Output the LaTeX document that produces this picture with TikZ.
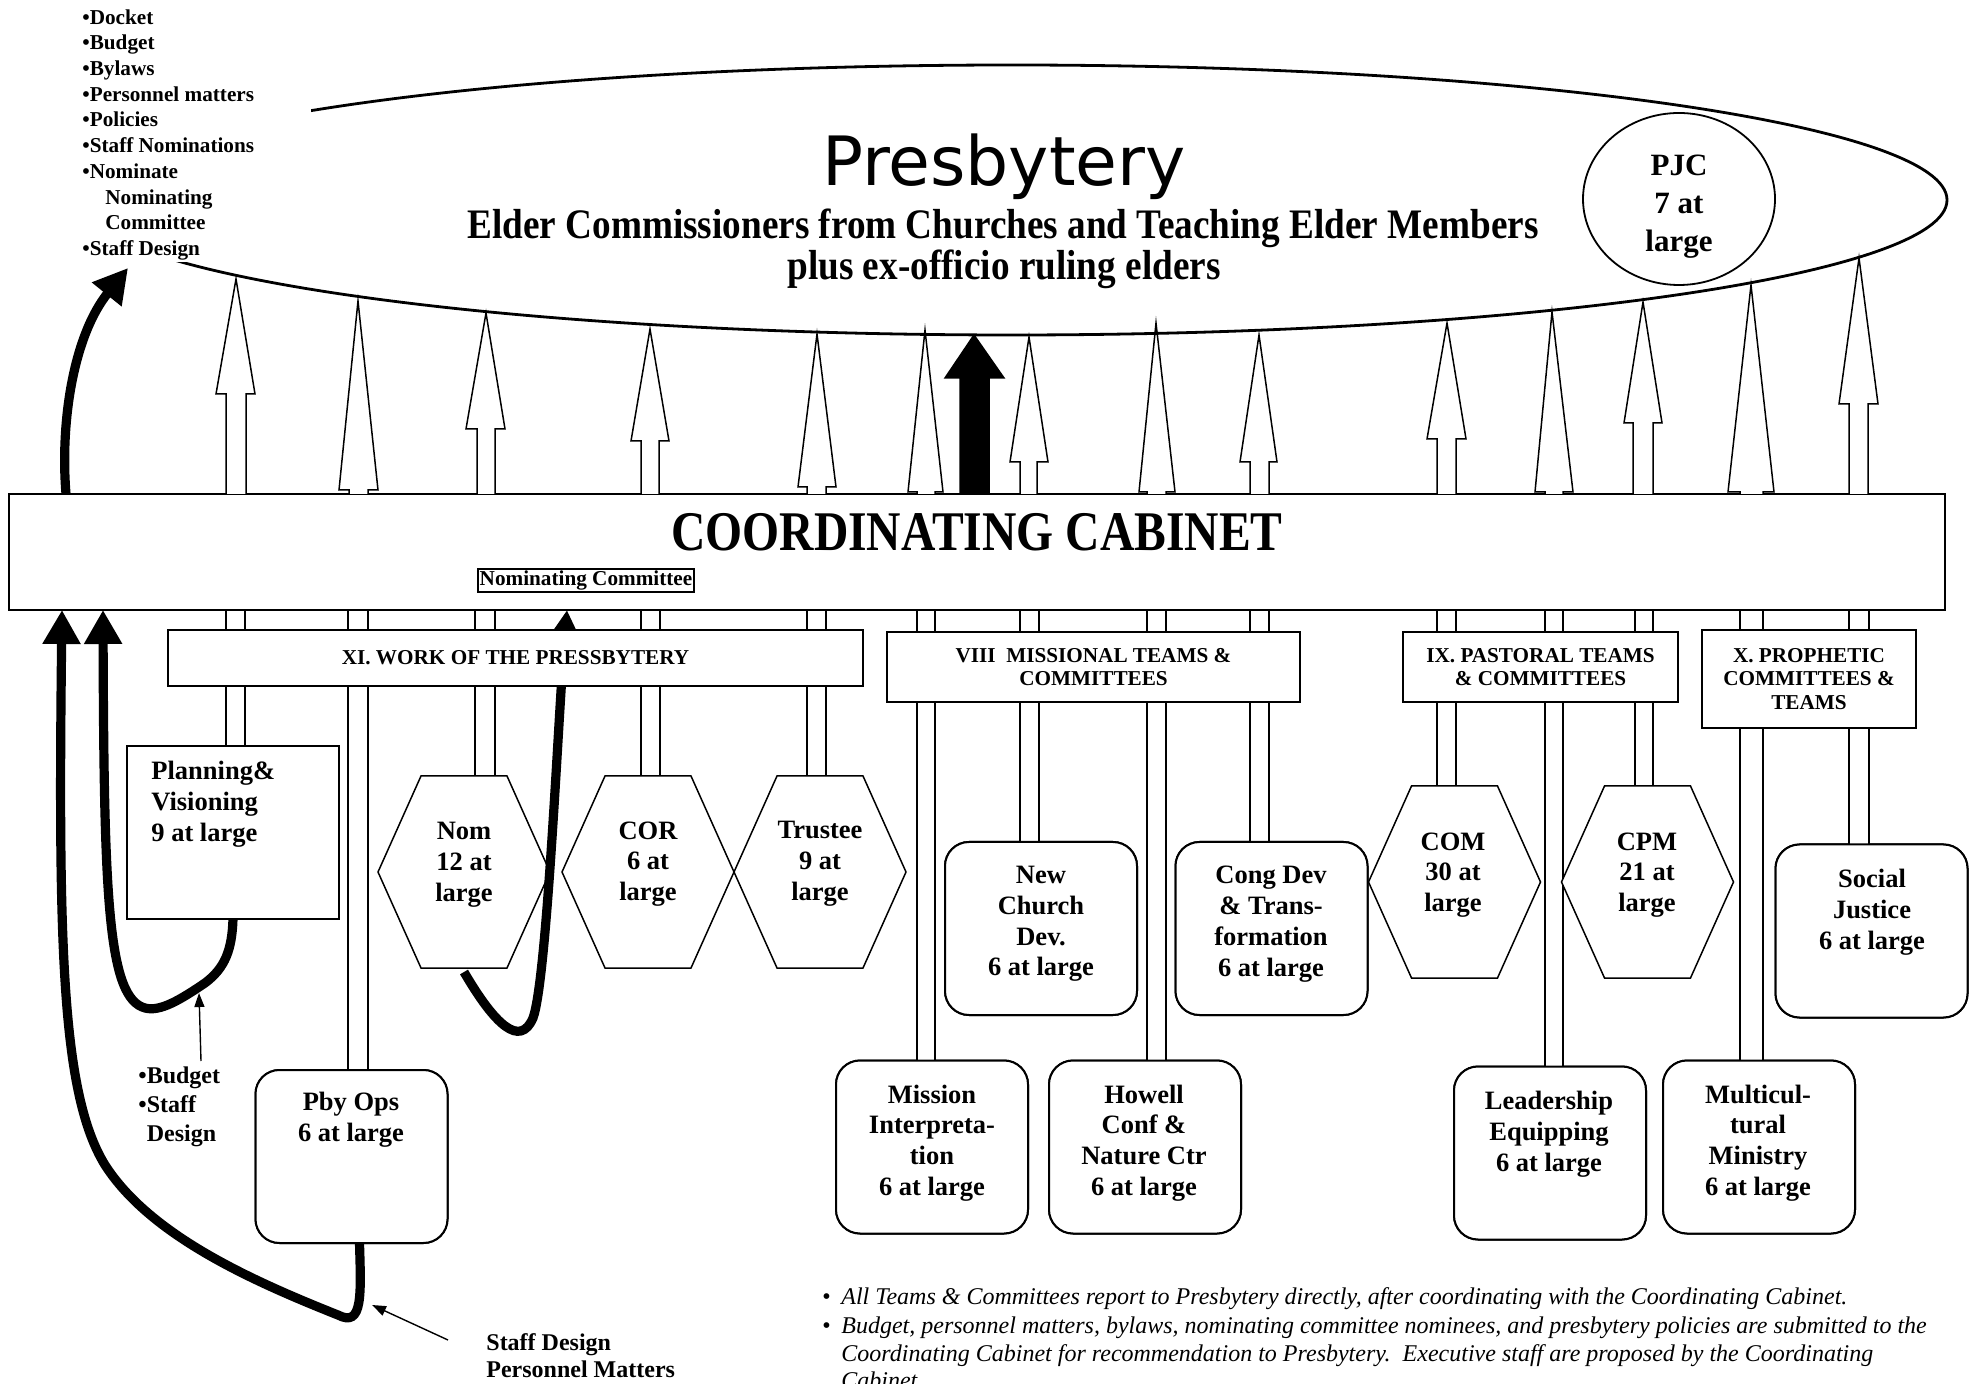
\documentclass[tikz,border=0pt]{standalone}
\usepackage{fontspec}
\setmainfont{Liberation Serif}
\newfontfamily\presfont{DejaVu Sans}
\usetikzlibrary{arrows.meta,shapes.geometric,calc}

\tikzset{
  boxline/.style={draw=black,line width=1pt,fill=white,inner sep=0pt,outer sep=0pt},
  teambox/.style={boxline,rounded corners=12pt,minimum width=96pt,minimum height=86.5pt},
  hexbox/.style={inner sep=0pt,outer sep=0pt,minimum width=86pt,minimum height=96pt},
  grouphead/.style={boxline,align=center,font=\bfseries\fontsize{10.6}{11.8}\selectfont},
  teamtext/.style={align=center,inner sep=0pt,font=\bfseries\fontsize{13.25}{15.4}\selectfont},
  notetext/.style={anchor=north west,align=left,inner sep=0pt},
  pipe/.style={draw=black,line width=0.75pt,fill=white},
  blockup/.style={draw=black,line width=0.75pt,fill=white,line join=miter},
  bigcurve/.style={line width=4.6pt,-{Triangle[length=17pt,width=18pt]}},
  pointer/.style={line width=0.7pt,-{Triangle[length=7pt,width=5pt]}}
}
\newcommand{\hexline}[1]{%
  \path[draw=black,line width=0.75pt,fill=white]
    ($(#1.north west)!0.25!(#1.north east)$) -- ($(#1.north west)!0.75!(#1.north east)$) --
    (#1.east) --
    ($(#1.south west)!0.75!(#1.south east)$) -- ($(#1.south west)!0.25!(#1.south east)$) --
    (#1.west) -- cycle;}

\begin{document}
\begin{tikzpicture}[x=0.5pt,y=-0.5pt]
\path[use as bounding box,fill=white] (0,0) rectangle (1976,1384);

\node[boxline,minimum width=968pt,minimum height=58pt] (cab) at (977,552) {};

\path[blockup] (226,0 |- cab.north) -- (226,394) -- (216,394) -- (236,279) -- (255,394) -- (246,394) -- (246,0 |- cab.north);
\path[blockup] (349,0 |- cab.north) -- (349,490) -- (339,490) -- (358,301) -- (378,490) -- (368,490) -- (368,0 |- cab.north);
\path[blockup] (477,0 |- cab.north) -- (477,429) -- (466,429) -- (486,313) -- (505,429) -- (495,429) -- (495,0 |- cab.north);
\path[blockup] (641,0 |- cab.north) -- (641,441) -- (631,441) -- (650,329) -- (669,441) -- (659,441) -- (659,0 |- cab.north);
\path[blockup] (807,0 |- cab.north) -- (807,487) -- (798,487) -- (817,334) -- (836,487) -- (826,487) -- (826,0 |- cab.north);
\path[blockup] (917,0 |- cab.north) -- (917,492) -- (908,492) -- (925,330) -- (943,492) -- (935,492) -- (935,0 |- cab.north);
\path[blockup,fill=black] (960,0 |- cab.north) -- (960,378) -- (945,378) -- (974,335) -- (1004,378) -- (989,378) -- (989,0 |- cab.north);
\path[blockup] (1020,0 |- cab.north) -- (1020,462) -- (1010,462) -- (1029,337) -- (1048,462) -- (1037,462) -- (1037,0 |- cab.north);
\path[blockup] (1147,0 |- cab.north) -- (1147,492) -- (1139,492) -- (1156,323) -- (1175,492) -- (1166,492) -- (1166,0 |- cab.north);
\path[blockup] (1250,0 |- cab.north) -- (1250,462) -- (1240,462) -- (1259,335) -- (1277,462) -- (1269,462) -- (1269,0 |- cab.north);
\path[blockup] (1437,0 |- cab.north) -- (1437,439) -- (1427,439) -- (1447,323) -- (1466,439) -- (1456,439) -- (1456,0 |- cab.north);
\path[blockup] (1545,0 |- cab.north) -- (1545,492) -- (1535,492) -- (1552,312) -- (1573,492) -- (1563,492) -- (1563,0 |- cab.north);
\path[blockup] (1633,0 |- cab.north) -- (1633,423) -- (1624,423) -- (1643,302) -- (1662,423) -- (1653,423) -- (1653,0 |- cab.north);
\path[blockup] (1740,0 |- cab.north) -- (1740,492) -- (1728,492) -- (1751,285) -- (1774,492) -- (1763,492) -- (1763,0 |- cab.north);
\path[blockup] (1849,0 |- cab.north) -- (1849,404) -- (1839,404) -- (1859,258) -- (1878,404) -- (1868,404) -- (1868,0 |- cab.north);

\node[draw,ellipse,line width=1.4pt,minimum width=935pt,minimum height=135pt,inner sep=0pt] (pres) at (1012,200) {};
\path[fill=white] (40,0) rectangle (311,262);

\node[notetext,font=\bfseries\fontsize{10.6}{12.85}\selectfont] (duties) at (82,9)
  {•Docket\\•Budget\\•Bylaws\\•Personnel matters\\•Policies\\•Staff Nominations\\•Nominate\\\hspace*{11.5pt}Nominating\\\hspace*{11.5pt}Committee\\•Staff Design};
\coordinate (duetip) at (128,268);

\node[anchor=base,inner sep=0pt,font=\presfont\fontsize{34}{36}\selectfont] (prestitle) at (1004,186) {Presbytery};
\node[anchor=base,inner sep=0pt,xscale=0.886,font=\bfseries\fontsize{21}{23}\selectfont] (elders) at (1003,239) {Elder Commissioners from Churches and Teaching Elder Members};
\node[anchor=base,inner sep=0pt,xscale=0.886,font=\bfseries\fontsize{21}{23}\selectfont] (exofficio) at (1004,280) {plus ex-officio ruling elders};
\node[draw,ellipse,line width=0.9pt,minimum width=96pt,minimum height=86pt,inner sep=0pt] (pjc) at (1679,199) {};
\node[align=center,inner sep=0pt,font=\bfseries\fontsize{15.5}{19}\selectfont] (pjc-t) at (1679,207) {PJC\\7 at\\large};

\node[anchor=base,inner sep=0pt,xscale=0.85,font=\bfseries\fontsize{28}{30}\selectfont] (cabtitle) at (977,551) {COORDINATING CABINET};
\node[draw,line width=1.2pt,inner sep=1pt,font=\bfseries\fontsize{10.6}{12}\selectfont] (nomcab) at (586,580.5) {Nominating Committee};

\node[boxline,minimum width=106pt,minimum height=86.5pt] (plan) at (233,832.5) {};
\node[teambox] (pbyops) at (351.5,1156.5) {};
\node[hexbox] (nom) at (464,872) {};
\node[hexbox] (cor) at (648,872) {};
\node[hexbox] (trustee) at (820,872) {};
\node[teambox] (newch) at (1041,928.5) {};
\node[teambox] (congdev) at (1271.5,928.5) {};
\node[teambox] (mission) at (932,1147) {};
\node[teambox] (howell) at (1145,1147) {};
\node[hexbox] (com) at (1454.5,882) {};
\node[hexbox] (cpm) at (1647.5,882) {};
\node[teambox] (leader) at (1550,1153) {};
\node[teambox] (multi) at (1759,1147) {};
\node[teambox] (social) at (1871.5,931) {};

\path[pipe] (226,0 |- cab.south) rectangle (245,0 |- plan.north);
\path[pipe] (348,0 |- cab.south) rectangle (368,0 |- pbyops.north);
\path[pipe] (475,0 |- cab.south) rectangle (495,0 |- nom.north);
\path[pipe] (641,0 |- cab.south) rectangle (660,0 |- cor.north);
\path[pipe] (807,0 |- cab.south) rectangle (826,0 |- trustee.north);
\path[pipe] (917,0 |- cab.south) rectangle (935,0 |- mission.north);
\path[pipe] (1020,0 |- cab.south) rectangle (1039,0 |- newch.north);
\path[pipe] (1147,0 |- cab.south) rectangle (1166,0 |- howell.north);
\path[pipe] (1250,0 |- cab.south) rectangle (1269,0 |- congdev.north);
\path[pipe] (1437,0 |- cab.south) rectangle (1456,0 |- com.north);
\path[pipe] (1545,0 |- cab.south) rectangle (1563,0 |- leader.north);
\path[pipe] (1635,0 |- cab.south) rectangle (1653,0 |- cpm.north);
\path[pipe] (1740,0 |- cab.south) rectangle (1763,0 |- multi.north);
\path[pipe] (1849,0 |- cab.south) rectangle (1869,0 |- social.north);

\node[boxline,minimum width=106pt,minimum height=86.5pt] at (plan) {};
\node[teambox] at (pbyops) {};
\node[teambox] at (newch) {};
\node[teambox] at (congdev) {};
\node[teambox] at (mission) {};
\node[teambox] at (howell) {};
\node[teambox] at (leader) {};
\node[teambox] at (multi) {};
\node[teambox] at (social) {};
\hexline{nom}
\hexline{cor}
\hexline{trustee}
\hexline{com}
\hexline{cpm}

\node[teamtext,anchor=west,align=left] (plan-t) at (151,804) {Planning\&\\Visioning\\9 at large};
\node[teamtext] (pbyops-t) at (351,1120) {Pby Ops\\6 at large};
\node[teamtext] (nom-t) at (464,865) {Nom\\12 at\\large};
\node[teamtext] (cor-t) at (648,864) {COR\\6 at\\large};
\node[teamtext] (trustee-t) at (820,864) {Trustee\\9 at\\large};
\node[teamtext] (newch-t) at (1041,924) {New\\Church\\Dev.\\6 at large};
\node[teamtext] (congdev-t) at (1271,924) {Cong Dev\\\& Trans-\\formation\\6 at large};
\node[teamtext] (com-t) at (1453,875) {COM\\30 at\\large};
\node[teamtext] (cpm-t) at (1647,875) {CPM\\21 at\\large};
\node[teamtext] (social-t) at (1872,912) {Social\\Justice\\6 at large};
\node[teamtext] (mission-t) at (932,1143) {Mission\\Interpreta-\\tion\\6 at large};
\node[teamtext] (howell-t) at (1144,1143) {Howell\\Conf \&\\Nature Ctr\\6 at large};
\node[teamtext] (leader-t) at (1549,1134) {Leadership\\Equipping\\6 at large};
\node[teamtext] (multi-t) at (1758,1143) {Multicul-\\tural\\Ministry\\6 at large};

\draw[bigcurve] (66,0 |- cab.north) .. controls (60,420) and (74,335) .. (duetip);
\draw[bigcurve] (plan.south) .. controls (232,950) and (225,968) .. (205,983)
  .. controls (180,1000) and (160,1012) .. (145,1008)
  .. controls (108,998) and (104,900) .. (103,0 |- cab.south);
\draw[bigcurve] ([xshift=4pt]pbyops.south) .. controls (361,1295) and (363,1328) .. (338,1315)
  .. controls (250,1280) and (150,1235) .. (105,1165)
  .. controls (62,1095) and (58,950) .. (62,0 |- cab.south);
\draw[bigcurve] ([yshift=-2pt]nom.south) .. controls (495,1025) and (520,1048) .. (533,1018)
  .. controls (547,980) and (558,720) .. (567,0 |- cab.south);

\node[grouphead,minimum width=347.5pt,minimum height=28pt] (xi) at (515.5,658) {XI. WORK OF THE PRESSBYTERY};
\node[grouphead,minimum width=206.5pt,minimum height=35pt] (viii) at (1093.5,667) {VIII\ \ MISSIONAL TEAMS \&\\COMMITTEES};
\node[grouphead,minimum width=137.5pt,minimum height=35pt] (ix) at (1540.5,667) {IX. PASTORAL TEAMS\\\& COMMITTEES};
\node[grouphead,minimum width=107pt,minimum height=49pt] (x) at (1809,679) {X. PROPHETIC\\COMMITTEES \&\\TEAMS};

\node[notetext,font=\bfseries\fontsize{12}{14.5}\selectfont] (bud) at (138,1066) {•Budget\\•Staff\\\phantom{•}Design};
\coordinate (budtip) at (199,993);
\draw[pointer] ([shift={(31.5pt,2.5pt)}]bud.north west) -- (budtip);

\node[notetext,font=\bfseries\fontsize{12}{13.5}\selectfont] (sd) at (486,1333) {Staff Design\\Personnel Matters};
\coordinate (sdtip) at (372,1305);
\draw[pointer] ([shift={(-19pt,-3.5pt)}]sd.north west) -- (sdtip);

\node[notetext,font=\itshape\fontsize{12}{13.75}\selectfont] (notes) at (841,1287)
  {\llap{\upshape•\hspace{5.3pt}}All Teams \& Committees report to Presbytery directly, after coordinating with the Coordinating Cabinet.\\[1pt]
   \llap{\upshape•\hspace{5.3pt}}Budget, personnel matters, bylaws, nominating committee nominees, and presbytery policies are submitted to the\\
   Coordinating Cabinet for recommendation to Presbytery.\ \ Executive staff are proposed by the Coordinating\\
   Cabinet.};
\end{tikzpicture}
\end{document}
